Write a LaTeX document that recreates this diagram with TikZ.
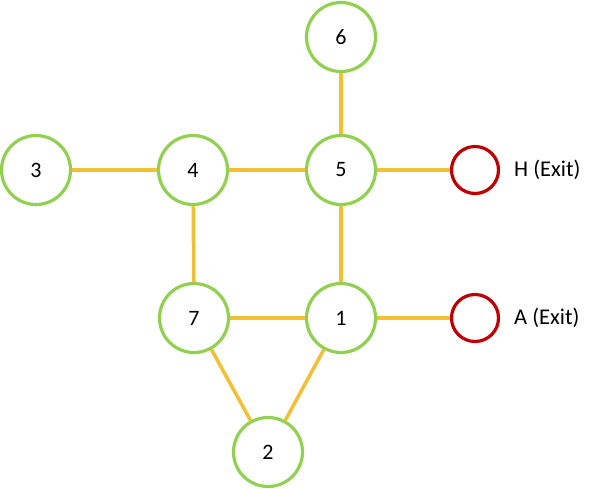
\documentclass[tikz,border=0pt]{standalone}
\usepackage{fontspec}
\setmainfont{Carlito}
\definecolor{nodegreen}{RGB}{146,208,80}
\definecolor{edgegold}{RGB}{242,192,50}
\definecolor{exitred}{RGB}{192,0,0}
\begin{document}
\begin{tikzpicture}[x=1pt,y=-1pt,
  vtx/.style={circle,draw=nodegreen,line width=3.2pt,fill=white,minimum size=69pt,inner sep=0pt,font=\fontsize{22}{26}\selectfont},
  exitv/.style={circle,draw=exitred,line width=3.2pt,fill=white,minimum size=47pt,inner sep=0pt},
  lbl/.style={anchor=west,inner sep=0pt,font=\fontsize{22.5}{26}\selectfont},
  edge/.style={draw=edgegold,line width=3.5pt}]
\useasboundingbox (0,0) rectangle (599,488);
\node[vtx] (n6) at (341,37) {6};
\node[vtx] (n5) at (341,170) {5};
\node[vtx] (n4) at (193,170) {4};
\node[vtx] (n3) at (36,170) {3};
\node[vtx] (n7) at (194,318) {7};
\node[vtx] (n1) at (341,318) {1};
\node[vtx] (n2) at (268,452) {2};
\node[exitv] (h) at (475,170) {};
\node[exitv] (a) at (475,318) {};
\node[lbl] (hl) at (514,170) {H (Exit)};
\node[lbl] (al) at (514,318) {A (Exit)};
\draw[edge] (n6) -- (n5);
\draw[edge] (n3) -- (n4);
\draw[edge] (n4) -- (n5);
\draw[edge] (n5) -- (h);
\draw[edge] (n4) -- (n7);
\draw[edge] (n5) -- (n1);
\draw[edge] (n7) -- (n1);
\draw[edge] (n1) -- (a);
\draw[edge] (n7) -- (n2);
\draw[edge] (n1) -- (n2);
\end{tikzpicture}
\end{document}
